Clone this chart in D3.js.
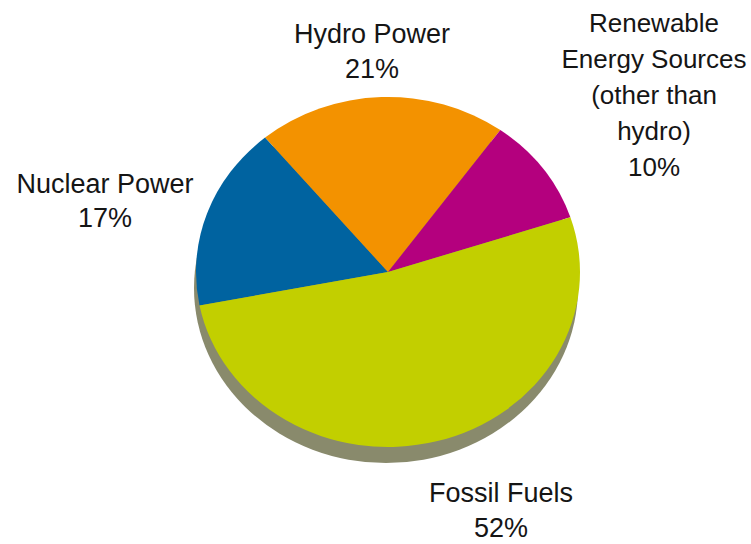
<!DOCTYPE html>
<html>
<head>
<meta charset="utf-8">
<script src="https://cdn.jsdelivr.net/npm/d3@7"></script>
<style>
  html, body { margin: 0; padding: 0; background: #ffffff; }
  svg { display: block; }
  text { font-family: "Liberation Sans", Arial, sans-serif; fill: #151515; }
</style>
</head>
<body>
<svg id="chart" width="751" height="544"></svg>
<script>
// ---- data ----
const categories = ["Nuclear Power", "Hydro Power", "Renewable Energy Sources (other than hydro)", "Fossil Fuels"];
const values = [17, 21, 10, 52];
const labelLines = [
  ["Nuclear Power", "17%"],
  ["Hydro Power", "21%"],
  ["Renewable", "Energy Sources", "(other than", "hydro)", "10%"],
  ["Fossil Fuels", "52%"]
];
const colors = ["#0063a0", "#f39200", "#b4007e", "#c2cf00"];

// ---- layout ----
const W = 751, H = 544;
const cx = 388, cy = 272;
const rx = 192, ry = 175;
const depthDx = -2, depthDy = 16;
const startDeg = 259;
const labelPos = [
  { x: 105, y: 193, lh: 34, fs: 27 },
  { x: 372, y: 43, lh: 35, fs: 27 },
  { x: 654, y: 32, lh: 36, fs: 26 },
  { x: 501, y: 502, lh: 35, fs: 27 }
];

const svg = d3.select("#chart");

const pie = d3.pie().sort(null)
  .startAngle(startDeg * Math.PI / 180)
  .endAngle(startDeg * Math.PI / 180 + 2 * Math.PI)
  .value(d => d);
const arcs = pie(values);
const arc = d3.arc().innerRadius(0).outerRadius(rx);

// shadow / depth
svg.append("g")
  .attr("transform", `translate(${cx + depthDx},${cy + depthDy}) scale(1,${ry / rx})`)
  .append("path")
  .attr("d", d3.arc().innerRadius(0).outerRadius(rx).startAngle(0).endAngle(2 * Math.PI)())
  .attr("fill", "#898a6c");

// top face
svg.append("g")
  .attr("transform", `translate(${cx},${cy}) scale(1,${ry / rx})`)
  .selectAll("path")
  .data(arcs)
  .join("path")
  .attr("d", arc)
  .attr("fill", (d, i) => colors[i]);

// labels
const lg = svg.append("g");
labelLines.forEach((lines, i) => {
  const p = labelPos[i];
  const t = lg.append("text")
    .attr("text-anchor", "middle")
    .attr("font-size", p.fs)
    .attr("aria-label", categories[i] + " " + values[i] + "%");
  lines.forEach((ln, j) => {
    t.append("tspan")
      .attr("x", p.x)
      .attr("y", p.y + j * p.lh)
      .text(ln);
  });
});
</script>
</body>
</html>
